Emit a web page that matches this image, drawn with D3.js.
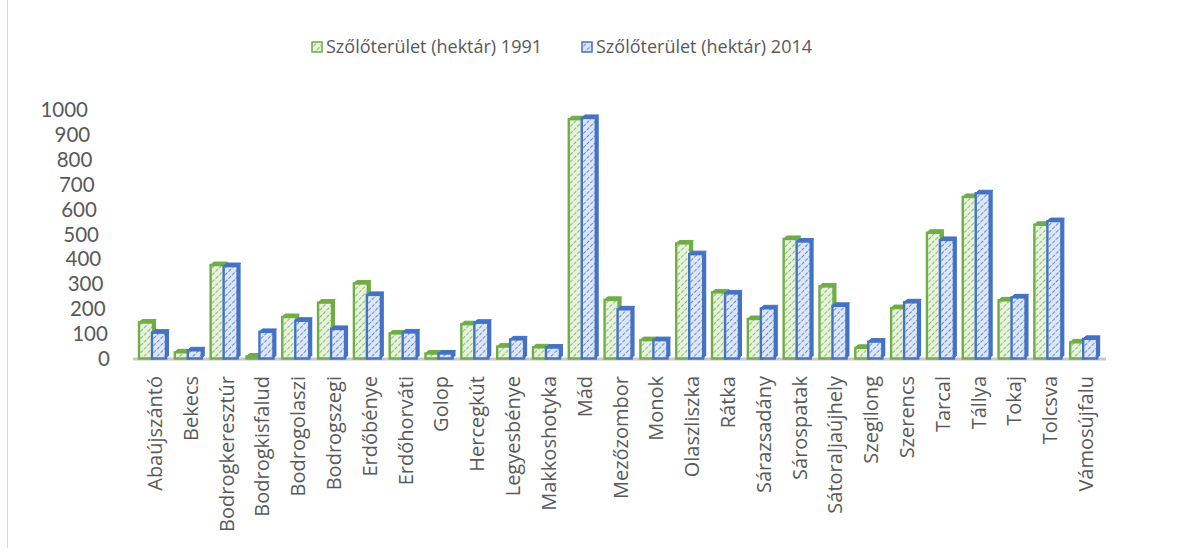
<!DOCTYPE html>
<html>
<head>
<meta charset="utf-8">
<script src="https://cdn.jsdelivr.net/npm/d3@7"></script>
<style>
  body { margin: 0; background: #fff; }
  text { font-family: "Open Sans", "Noto Sans", sans-serif; fill: #595959; }
  .ytick { font-family: Lato, "Open Sans", sans-serif; }
</style>
</head>
<body>
<script>
// settlements of the Tokaj wine region
const settlements = ["Abaújszántó", "Bekecs", "Bodrogkeresztúr", "Bodrogkisfalud", "Bodrogolaszi",
  "Bodrogszegi", "Erdőbénye", "Erdőhorváti", "Golop", "Hercegkút", "Legyesbénye", "Makkoshotyka",
  "Mád", "Mezőzombor", "Monok", "Olaszliszka", "Rátka", "Sárazsadány", "Sárospatak",
  "Sátoraljaújhely", "Szegilong", "Szerencs", "Tarcal", "Tállya", "Tokaj", "Tolcsva", "Vámosújfalu"];

// vineyard area in hectares
const area1991 = [145, 25, 376, 8, 167, 225, 302, 101, 20, 138, 48, 45,
  963, 236, 74, 463, 266, 159, 481, 290, 43, 203, 506, 650, 234, 538, 65];
const area2014 = [104, 33, 372, 107, 152, 119, 256, 105, 20, 144, 77, 44,
  968, 198, 74, 420, 262, 202, 471, 212, 68, 226, 477, 665, 246, 553, 79];

const seriesNames = ["Szőlőterület (hektár) 1991", "Szőlőterület (hektár) 2014"];
const yTicks = [0, 100, 200, 300, 400, 500, 600, 700, 800, 900, 1000];

const W = 1192, H = 556;
const colors = [
  { line: "#70ad47", light: "#e6f2dd" },
  { line: "#4472c4", light: "#dce6f5" }
];

const svg = d3.select("body").append("svg").attr("width", W).attr("height", H);

// hatch patterns
const defs = svg.append("defs");
colors.forEach((c, i) => {
  const p = defs.append("pattern")
    .attr("id", "hatch" + i)
    .attr("patternUnits", "userSpaceOnUse")
    .attr("width", 5).attr("height", 5)
    .attr("patternTransform", "rotate(45)");
  p.append("rect").attr("width", 5).attr("height", 5).attr("fill", c.light);
  p.append("line").attr("x1", 0).attr("y1", 0).attr("x2", 0).attr("y2", 5)
    .attr("stroke", c.line).attr("stroke-width", 1.6).attr("stroke-dasharray", "3.5,1.5");
});

// thin frame on the left side
svg.append("line").attr("x1", 7.5).attr("x2", 7.5).attr("y1", 0).attr("y2", 548)
  .attr("stroke", "#d9d9d9");

const x = d3.scaleBand().domain(settlements).range([136, 1103]);
const y = d3.scaleLinear().domain([0, 1000]).range([358.5, 110]);
const inner = d3.scaleBand().domain([0, 1]).range([0, 26]);

// y tick labels (slightly drifting right toward the bottom, as in the source)
svg.append("g").selectAll("text")
  .data(yTicks)
  .join("text")
  .attr("class", "ytick")
  .attr("x", (d) => 88 + 22 * (1 - d / 1000))
  .attr("y", (d) => y(d))
  .attr("dy", "0.36em")
  .attr("text-anchor", "end")
  .style("font-size", "20.5px")
  .text((d) => d);

// floor line
svg.append("line").attr("x1", 133).attr("x2", 1106).attr("y1", 359).attr("y2", 359)
  .attr("stroke", "#c8c8c8").attr("stroke-width", 3);

// bars
const data = [area1991, area2014];
const bw = inner.bandwidth() + 1;
const depth = 3;
data.forEach((vals, s) => {
  const c = colors[s];
  const g = svg.append("g");
  const bars = g.selectAll("g")
    .data(settlements.map((n, i) => ({ name: n, v: vals[i] })))
    .join("g")
    .attr("transform", (d) => `translate(${x(d.name) + 3 + inner(s)},0)`);
  // side face
  bars.append("path")
    .attr("d", (d) => {
      const top = y(d.v), base = y(0);
      return `M${bw},${base}L${bw + depth},${base - depth}L${bw + depth},${top - depth}L${bw},${top}Z`;
    })
    .attr("fill", c.line);
  // top face
  bars.append("path")
    .attr("d", (d) => {
      const top = y(d.v);
      return `M0,${top}L${depth},${top - depth}L${bw + depth},${top - depth}L${bw},${top}Z`;
    })
    .attr("fill", c.line)
    .attr("stroke", c.line).attr("stroke-width", 1).attr("stroke-linejoin", "round");
  // front face
  bars.append("rect")
    .attr("x", 0)
    .attr("y", (d) => y(d.v))
    .attr("width", bw)
    .attr("height", (d) => y(0) - y(d.v))
    .attr("fill", `url(#hatch${s})`)
    .attr("stroke", c.line)
    .attr("stroke-width", 2.4);
});

// category labels, rotated
svg.append("g").selectAll("text")
  .data(settlements)
  .join("text")
  .attr("transform", (d) => `translate(${x(d) + x.bandwidth() / 2 + 1},376) rotate(-90)`)
  .attr("text-anchor", "end")
  .attr("dy", "0.35em")
  .style("font-size", "20px")
  .text((d) => d);

// legend
const legendX = [312, 582];
const legend = svg.append("g").selectAll("g")
  .data(seriesNames)
  .join("g")
  .attr("transform", (d, i) => `translate(${legendX[i]},47)`);
legend.append("rect")
  .attr("x", 0).attr("y", -5).attr("width", 10).attr("height", 10)
  .attr("fill", (d, i) => `url(#hatch${i})`)
  .attr("stroke", (d, i) => colors[i].line).attr("stroke-width", 1.5);
legend.append("text")
  .attr("x", 14).attr("dy", "0.35em")
  .style("font-size", "18px")
  .text((d) => d);
</script>
</body>
</html>
